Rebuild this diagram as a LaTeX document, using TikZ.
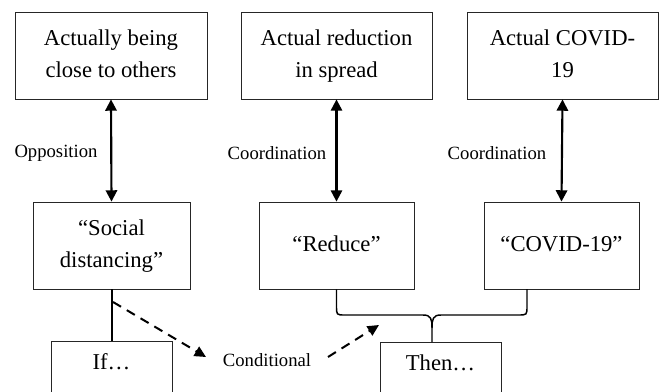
\documentclass[tikz,border=0pt]{standalone}
\usepackage{fontspec}
\setmainfont{Liberation Serif}
\usetikzlibrary{arrows.meta,calc}
\begin{document}
\begin{tikzpicture}[x=0.75pt,y=-0.75pt,
 box/.style={draw=black!85,line width=0.6pt,inner sep=0pt,align=center,font=\fontsize{17}{24}\selectfont,minimum height=65.25pt},
 openbox/.style={draw=black!85,line width=0.6pt,inner sep=0pt,anchor=north,font=\fontsize{17}{24}\selectfont,minimum width=90.75pt,text height=21pt,text depth=30pt},
 lbl/.style={font=\fontsize{14}{16}\selectfont,inner sep=0pt},
 dbl/.style={line width=1.6pt,{Triangle[length=8.5pt,width=8.5pt]}-{Triangle[length=8.5pt,width=8.5pt]}},
 cond/.style={line width=1.5pt,dash pattern=on 7pt off 5pt,-{Triangle[length=8.5pt,width=8pt]}},
 link/.style={line width=1.5pt},
 brace/.style={line width=1.1pt}]
\useasboundingbox (0,0) rectangle (664,392);
\clip (0,0) rectangle (664,392);
% top row
\node[box,minimum width=144pt] (b1) at (111,55.5) {\strut Actually being\\close to others\strut};
\node[box,minimum width=143.25pt] (b2) at (336.5,55.5) {\strut Actual reduction\\in spread\strut};
\node[box,minimum width=143.25pt] (b3) at (562.5,55.5) {\strut Actual COVID-\\19\strut};
% middle row
\node[box,minimum width=117.75pt] (social) at (111.5,245.5) {\strut “Social\\distancing”\strut};
\node[box,minimum width=116.25pt] (reduce) at (336.5,245.5) {\strut “Reduce”};
\node[box,minimum width=116.25pt] (covid) at (561.5,245.5) {\strut “COVID-19”};
% bottom row
\node[openbox] (if) at (111.5,341) {If…};
\node[openbox] (then) at (440.5,342) {Then…};
% labels
\node[lbl] (opp) at (56,153) {Opposition};
\node[lbl] (coord1) at (277,153) {Coordination};
\node[lbl] (coord2) at (497,153) {Coordination};
\node[lbl] (condl) at (267,360) {Conditional};
% double arrows
\draw[dbl] (b1.south) -- (social.north);
\draw[dbl] (b2.south) -- (reduce.north);
\draw[dbl] (b3.south) -- (covid.north);
% if link
\draw[link] (social.south) -- (if.north);
% brace
\coordinate (cleg) at (527,289);
\coordinate (jn) at (432,342);
\draw[brace] (reduce.south) -- (336.5,306) .. controls (336.5,315) and (336.5,315) .. (345,315) -- (423,315) .. controls (431,315) and (432,319) .. (432,328) -- (jn);
\draw[brace] (cleg) -- (527,306) .. controls (527,315) and (527,315) .. (518,315) -- (441,315) .. controls (433,315) and (432,319) .. (432,328);
% conditional arrows
\coordinate (cs) at (113,302);
\coordinate (ce) at (206,357);
\coordinate (ds) at (328,357);
\coordinate (de) at (379,325);
\draw[cond] (cs) -- (ce);
\draw[cond] (ds) -- (de);
\end{tikzpicture}
\end{document}
